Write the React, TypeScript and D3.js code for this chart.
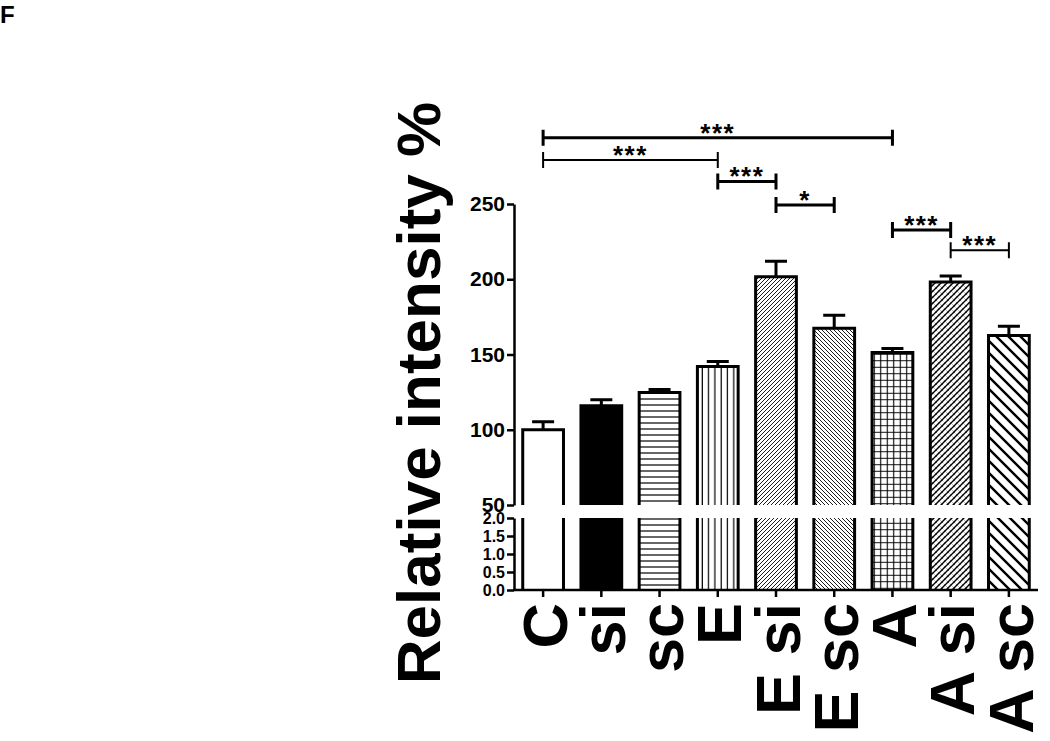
import React, { useEffect, useRef } from "react";
import * as d3 from "d3";

// data
const categories = ["C", "si", "sc", "E", "E si", "E sc", "A", "A si", "A sc"];
const means = [100, 116, 124.7, 142, 201.6, 167.5, 151.3, 198.2, 162.7];
const errors = [5.3, 4, 2, 3.3, 10.4, 8.5, 2.7, 4, 6];
const patterns = ["none", "solid", "horiz", "vert", "diagUp", "diagDown", "grid", "hatchDot", "wideDown"];
const upperTicks = [50, 100, 150, 200, 250];
const lowerTicks = [0, 0.5, 1, 1.5, 2];
const compFrom = ["C", "C", "E", "E si", "A", "A si"];
const compTo = ["A", "E", "E si", "E sc", "A si", "A sc"];
const compLevel = [294, 279.3, 265, 249.3, 232.7, 219.3];
const compLabel = ["***", "***", "***", "*", "***", "***"];
const compWidth = [3, 2, 3, 3, 3, 2];

const FONT = "'Liberation Sans', Arial, sans-serif";

export default function App() {
  const ref = useRef<SVGSVGElement>(null);

  useEffect(() => {
    const svg = d3.select(ref.current);
    svg.selectAll("*").remove();

    const width = 1050;
    const height = 741;
    const axisX = 514;

    const x = d3.scaleBand().domain(categories).range([axisX, 1038]).paddingInner(0.3).paddingOuter(0.15);
    const yUp = d3.scaleLinear().domain([50, 250]).range([505, 204]);
    const yLow = d3.scaleLinear().domain([0, 2]).range([590, 518]);

    svg.attr("width", width).attr("height", height);

    // patterns
    const defs = svg.append("defs");
    const pat = (id, w, h, draw) => {
      const p = defs.append("pattern").attr("id", id).attr("patternUnits", "userSpaceOnUse")
        .attr("width", w).attr("height", h);
      p.append("rect").attr("width", w).attr("height", h).attr("fill", "#fff");
      draw(p);
    };
    pat("horiz", 6, 6, p => p.append("line").attr("x1", 0).attr("x2", 6).attr("y1", 3).attr("y2", 3).attr("stroke", "#000").attr("stroke-width", 1.2));
    pat("vert", 6.3, 6, p => p.append("line").attr("y1", 0).attr("y2", 6).attr("x1", 3).attr("x2", 3).attr("stroke", "#000").attr("stroke-width", 1.2));
    pat("diagUp", 4, 4, p => p.append("path").attr("d", "M0,4L4,0M-1,1L1,-1M3,5L5,3").attr("stroke", "#000").attr("stroke-width", 0.9));
    pat("diagDown", 4, 4, p => p.append("path").attr("d", "M0,0L4,4M-1,3L1,5M3,-1L5,1").attr("stroke", "#000").attr("stroke-width", 0.9));
    pat("grid", 6.5, 6.5, p => p.append("path").attr("d", "M0,3.25H6.5M3.25,0V6.5").attr("stroke", "#000").attr("stroke-width", 1.1));
    pat("hatchDot", 6, 6, p => {
      p.append("path").attr("d", "M0,6L6,0M-1,1L1,-1M5,7L7,5").attr("stroke", "#000").attr("stroke-width", 1.4);
      p.append("path").attr("d", "M0,0L6,6M-1,5L1,7M5,-1L7,1").attr("stroke", "#000").attr("stroke-width", 0.7).attr("stroke-dasharray", "1,1.6");
    });
    pat("wideDown", 12, 12, p => p.append("path").attr("d", "M0,0L12,12M-2,10L2,14M10,-2L14,2").attr("stroke", "#000").attr("stroke-width", 2.4));

    const fillOf = i => patterns[i] === "none" ? "#fff" : patterns[i] === "solid" ? "#000" : `url(#${patterns[i]})`;

    const g = svg.append("g");

    // bars: upper and lower segments
    categories.forEach((c, i) => {
      const x0 = x(c);
      const bw = x.bandwidth();
      const top = yUp(means[i]);
      g.append("rect").attr("x", x0).attr("y", top).attr("width", bw).attr("height", yUp(50) - top).attr("fill", fillOf(i));
      g.append("rect").attr("x", x0).attr("y", yLow(2)).attr("width", bw).attr("height", yLow(0) - yLow(2)).attr("fill", fillOf(i));
      g.append("path").attr("d", `M${x0},${yUp(50)}V${top}H${x0 + bw}V${yUp(50)}`)
        .attr("fill", "none").attr("stroke", "#000").attr("stroke-width", 3);
      g.append("path").attr("d", `M${x0},${yLow(2)}V${yLow(0)}M${x0 + bw},${yLow(2)}V${yLow(0)}`)
        .attr("fill", "none").attr("stroke", "#000").attr("stroke-width", 3);

      // error bar
      const cx = x0 + bw / 2;
      const et = yUp(means[i] + errors[i]);
      g.append("path").attr("d", `M${cx},${top}V${et}M${cx - 11},${et}H${cx + 11}`)
        .attr("fill", "none").attr("stroke", "#000").attr("stroke-width", 3);
    });

    // y axes
    const upAxis = svg.append("g").attr("transform", `translate(${axisX},0)`)
      .call(d3.axisLeft(yUp).tickValues(upperTicks).tickSize(7).tickPadding(2).tickSizeOuter(0));
    const lowAxis = svg.append("g").attr("transform", `translate(${axisX},0)`)
      .call(d3.axisLeft(yLow).tickValues(lowerTicks).tickFormat(d3.format(".1f")).tickSize(7).tickPadding(2).tickSizeOuter(0));
    [upAxis, lowAxis].forEach(a => {
      a.select(".domain").attr("stroke", "#000").attr("stroke-width", 2.5);
      a.selectAll(".tick line").attr("stroke", "#000").attr("stroke-width", 2.5);
      a.selectAll("text").attr("fill", "#000").attr("font-family", FONT).attr("font-weight", "bold");
    });
    upAxis.selectAll("text").attr("font-size", 21);
    lowAxis.selectAll("text").attr("font-size", 16);

    // x axis
    const xAxis = svg.append("g").attr("transform", `translate(0,${yLow(0)})`)
      .call(d3.axisBottom(x).tickSize(7).tickSizeOuter(0).tickFormat(() => ""));
    xAxis.select(".domain").attr("stroke", "#000").attr("stroke-width", 2.5).attr("d", `M${axisX - 1},0H1038`);
    xAxis.selectAll(".tick line").attr("stroke", "#000").attr("stroke-width", 2.5);

    // rotated category labels
    categories.forEach(c => {
      svg.append("text")
        .attr("transform", `translate(${x(c) + x.bandwidth() / 2 + 1},603) rotate(-90)`)
        .attr("text-anchor", "end").attr("dy", "0.36em")
        .attr("font-family", FONT).attr("font-weight", "bold").attr("font-size", 63)
        .text(c);
    });

    // y title
    svg.append("text")
      .attr("transform", `translate(440,393) rotate(-90)`)
      .attr("text-anchor", "middle")
      .attr("font-family", FONT).attr("font-weight", "bold").attr("font-size", 62)
      .text("Relative intensity %");

    // significance brackets
    compFrom.forEach((f, i) => {
      const x1 = x(f) + x.bandwidth() / 2;
      const x2 = x(compTo[i]) + x.bandwidth() / 2;
      const yy = yUp(compLevel[i]);
      svg.append("path").attr("d", `M${x1},${yy}H${x2}M${x1},${yy - 8}V${yy + 8}M${x2},${yy - 8}V${yy + 8}`)
        .attr("fill", "none").attr("stroke", "#000").attr("stroke-width", compWidth[i]);
      svg.append("text").attr("x", (x1 + x2) / 2).attr("y", yy + 4)
        .attr("text-anchor", "middle").attr("font-family", FONT).attr("font-weight", "bold")
        .attr("font-size", 26).attr("letter-spacing", 1.5).text(compLabel[i]);
    });

    // panel letter
    svg.append("text").attr("x", 0).attr("y", 23).attr("font-family", FONT).attr("font-weight", "bold")
      .attr("font-size", 24).text("F");
  }, []);

  return (
    <div>
      <svg ref={ref} style={{ position: "absolute", left: 0, top: 0, background: "#fff" }} />
    </div>
  );
}
